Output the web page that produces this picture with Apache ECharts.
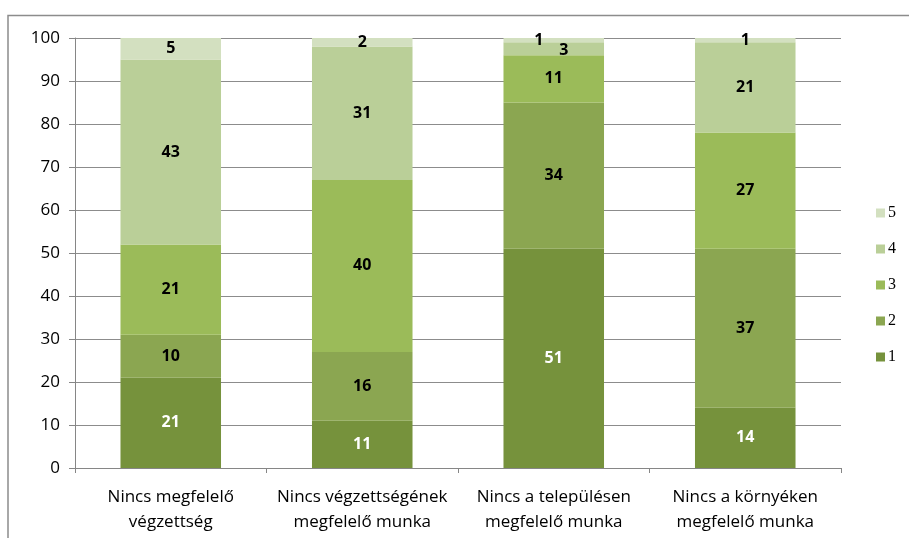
<!DOCTYPE html>
<html>
<head>
<meta charset="utf-8">
<script src="https://cdn.jsdelivr.net/npm/echarts@6/dist/echarts.min.js"></script>
<style>
  html, body { margin: 0; padding: 0; background: #fff; }
  #main { width: 909px; height: 538px; }
</style>
</head>
<body>
<div id="main"></div>
<script>
  // kategóriák és értékek (1-5 skála, %)
  const categories = [
    'Nincs megfelelő\nvégzettség',
    'Nincs végzettségének\nmegfelelő munka',
    'Nincs a településen\nmegfelelő munka',
    'Nincs a környéken\nmegfelelő munka'
  ];
  const seriesNames = ['1', '2', '3', '4', '5'];
  const v1 = [21, 11, 51, 14];
  const v2 = [10, 16, 34, 37];
  const v3 = [21, 40, 11, 27];
  const v4 = [43, 31, 3, 21];
  const v5 = [5, 2, 1, 1];
  const yTicks = [0, 10, 20, 30, 40, 50, 60, 70, 80, 90, 100];

  const colors = ['#76923c', '#8ba651', '#9bbb59', '#bacf98', '#d3e0c0'];
  const labelColors = ['#fff', '#000', '#000', '#000', '#000'];

  const allValues = [v1, v2, v3, v4, v5];

  // Excel eltolta a kis címkéket a 3. oszlopnál
  const labelOffsets = {
    '3-2': [10, 2],
    '4-2': [-15, 0]
  };

  const myChart = echarts.init(document.getElementById('main'));

  const series = allValues.map((vals, si) => ({
    name: seriesNames[si],
    type: 'bar',
    stack: 'total',
    barWidth: '52.5%',
    itemStyle: { color: colors[si] },
    label: {
      show: true,
      position: 'inside',
      color: labelColors[si],
      fontFamily: 'Open Sans',
      fontWeight: 'bold',
      fontSize: 16
    },
    data: vals.map((v, ci) => {
      const off = labelOffsets[si + '-' + ci];
      return off ? { value: v, label: { offset: off } } : v;
    })
  }));

  const option = {
    animation: false,
    backgroundColor: '#fff',
    graphic: [{
      type: 'polyline',
      shape: { points: [[8, 538], [8, 15.5], [909, 15.5]] },
      style: { stroke: '#8c8c8c', lineWidth: 1.5, fill: null }
    }],
    legend: {
      orient: 'vertical',
      left: 871,
      top: 200,
      itemWidth: 9,
      itemHeight: 9,
      itemGap: 20,
      icon: 'rect',
      data: seriesNames.slice().reverse(),
      textStyle: { fontFamily: 'Liberation Serif', fontSize: 16, lineHeight: 15, color: '#000', padding: [0, 0, 0, -2] }
    },
    grid: { left: 75, right: 68, top: 38, bottom: 70 },
    xAxis: {
      type: 'category',
      data: categories,
      axisLine: { lineStyle: { color: '#868686' } },
      axisTick: { show: true, length: 5, lineStyle: { color: '#868686' } },
      axisLabel: {
        fontFamily: 'Open Sans',
        fontSize: 17,
        color: '#000',
        lineHeight: 25,
        margin: 17,
        interval: 0
      }
    },
    yAxis: {
      type: 'value',
      min: 0,
      max: 100,
      interval: 10,
      axisLine: { show: true, lineStyle: { color: '#868686' } },
      axisTick: { show: true, length: 6, lineStyle: { color: '#868686' } },
      splitLine: { lineStyle: { color: '#8c8c8c' } },
      axisLabel: {
        fontFamily: 'Open Sans',
        fontSize: 17,
        color: '#000',
        margin: 15,
        formatter: v => yTicks.includes(v) ? String(v) : ''
      }
    },
    series: series
  };

  myChart.setOption(option);
</script>
</body>
</html>
